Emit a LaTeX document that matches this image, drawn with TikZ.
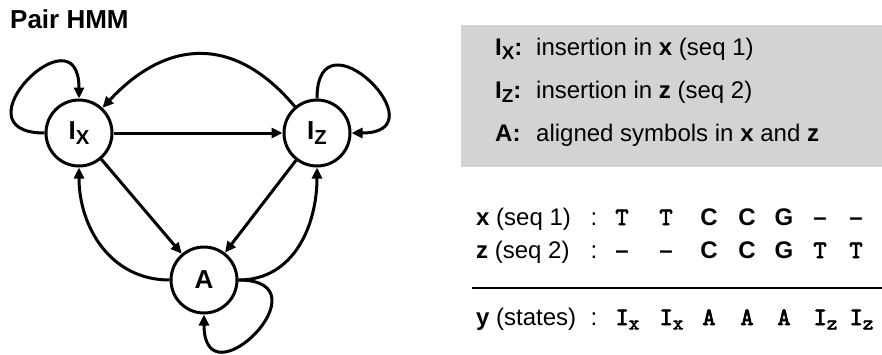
\documentclass[tikz,border=0pt]{standalone}
\usepackage{fontspec}
\setmainfont{Liberation Sans}
\newfontfamily\courfont{lmmono10-regular.otf}[FakeBold=3]
\usetikzlibrary{arrows.meta}
\definecolor{legendgray}{RGB}{211,211,211}
\newcommand\lsub[1]{\raisebox{-0.35ex}{\scalebox{0.78}{#1}}}
\newcommand\csub[1]{\raisebox{-0.4ex}{\scalebox{0.8}{#1}}}
\begin{document}
\begin{tikzpicture}[x=1pt,y=1pt,
  state/.style={circle,draw,line width=3pt,minimum size=66pt,inner sep=0pt,
    font=\fontsize{26}{30}\selectfont\bfseries},
  edge/.style={line width=3pt,-{Triangle[length=11pt,width=10pt]}},
  txt/.style={inner sep=0pt,font=\fontsize{24}{28}\selectfont},
  ctxt/.style={inner sep=0pt,anchor=base,font=\fontsize{24}{28}\selectfont\bfseries},
  mono/.style={inner sep=0pt,anchor=base,font=\fontsize{25}{28}\selectfont\courfont},
  monow/.style={inner sep=0pt,anchor=base west,font=\fontsize{25}{28}\selectfont\courfont},
  rule/.style={line width=2pt}]
\useasboundingbox (0,0) rectangle (882,-354);

% title
\node[txt,anchor=base west,font=\fontsize{26}{30}\selectfont\bfseries] (title) at (10,-28.5) {Pair HMM};

% states
\node[state] (Ix) at (79,-133) {I\lsub{X}};
\node[state] (Iz) at (317,-133) {I\lsub{Z}};
\node[state] (A) at (204,-280) {A};

% transitions
\draw[edge] (Ix) -- (Iz);
\draw[edge] (Ix) -- (A);
\draw[edge] (Iz) -- (A);
\draw[edge] (Iz) to[out=130,in=47,looseness=1.25] (Ix);
\draw[edge] (A) to[out=180,in=-90,looseness=1.05] (Ix);
\draw[edge] (A) to[out=0,in=-90,looseness=1.05] (Iz);
\draw[edge] (Ix.west) .. controls +(-92,0) and +(0,92) .. (Ix.north);
\draw[edge] (Iz.north) .. controls +(0,92) and +(92,0) .. (Iz.east);
\draw[edge] (A.east) .. controls +(92,0) and +(0,-92) .. (A.south);

% legend
\fill[legendgray] (461,-25) rectangle (882,-167);
\node[txt,anchor=base west,font=\fontsize{24}{28}\selectfont\bfseries] (l1) at (495,-55) {I\lsub{X}:};
\node[txt,anchor=base west] (d1) at (536,-55) {insertion in \textbf{x} (seq 1)};
\node[txt,anchor=base west,font=\fontsize{24}{28}\selectfont\bfseries] (l2) at (495,-98) {I\lsub{Z}:};
\node[txt,anchor=base west] (d2) at (536,-98) {insertion in \textbf{z} (seq 2)};
\node[txt,anchor=base west,font=\fontsize{24}{28}\selectfont\bfseries] (l3) at (495,-141) {A:};
\node[txt,anchor=base west] (d3) at (536,-141) {aligned symbols in \textbf{x} and \textbf{z}};

% alignment table
\node[txt,anchor=base west] (rx) at (476,-225) {\textbf{x} (seq 1)};
\node[txt,anchor=base west] (rz) at (476,-258) {\textbf{z} (seq 2)};
\node[txt,anchor=base west] (ry) at (476,-325) {\textbf{y} (states)};
\node[txt,anchor=base] (cx) at (594,-225) {:};
\node[txt,anchor=base] (cz) at (594,-258) {:};
\node[txt,anchor=base] (cy) at (594,-325) {:};

% row x
\node[mono] (x1) at (622,-225) {T};
\node[mono] (x2) at (666,-225) {T};
\node[ctxt] (x3) at (709,-225) {C};
\node[ctxt] (x4) at (747,-225) {C};
\node[ctxt] (x5) at (784,-225) {G};
\node[ctxt] (x6) at (820,-225) {–};
\node[ctxt] (x7) at (856,-225) {–};
% row z
\node[ctxt] (z1) at (622,-258) {–};
\node[ctxt] (z2) at (666,-258) {–};
\node[ctxt] (z3) at (709,-258) {C};
\node[ctxt] (z4) at (747,-258) {C};
\node[ctxt] (z5) at (784,-258) {G};
\node[mono] (z6) at (820,-258) {T};
\node[mono] (z7) at (856,-258) {T};
% rule
\coordinate (r0) at (472,-288);
\coordinate (r1) at (882,-288);
\draw[rule] (r0) -- (r1);
% row y
\node[monow] (y1) at (615.5,-325) {I\csub{x}};
\node[monow] (y2) at (659.5,-325) {I\csub{x}};
\node[mono] (y3) at (709,-325) {A};
\node[mono] (y4) at (747,-325) {A};
\node[mono] (y5) at (784,-325) {A};
\node[monow] (y6) at (813.5,-325) {I\csub{z}};
\node[monow] (y7) at (849.5,-325) {I\csub{z}};
\end{tikzpicture}
\end{document}
